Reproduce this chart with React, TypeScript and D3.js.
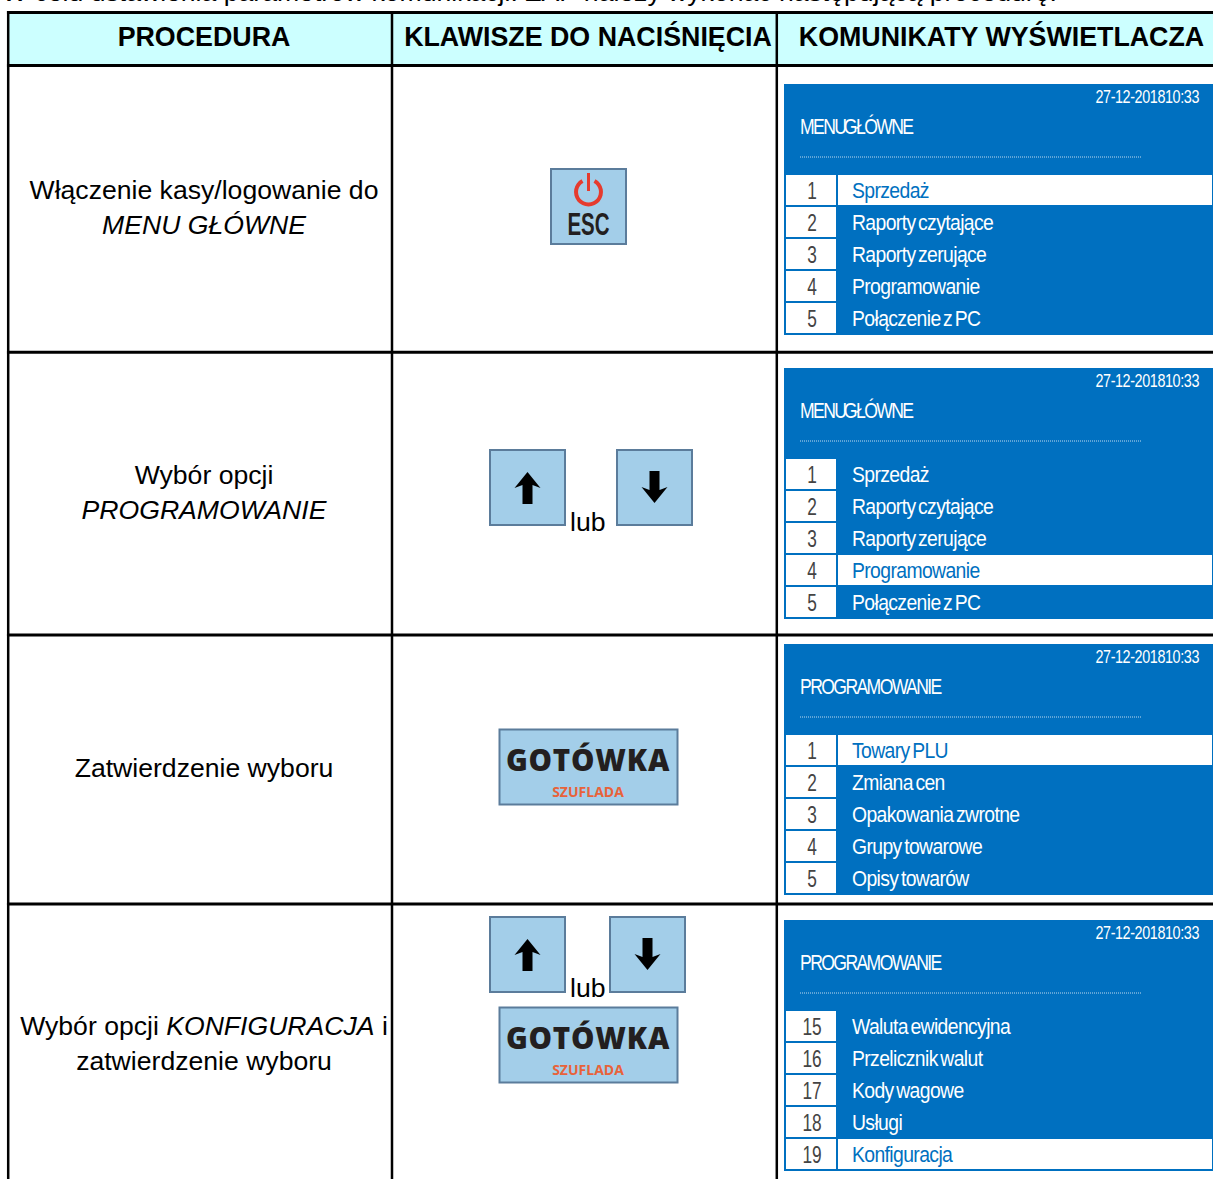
import React from 'react';
import * as d3 from 'd3';

const headers = ['PROCEDURA', 'KLAWISZE DO NACIŚNIĘCIA', 'KOMUNIKATY WYŚWIETLACZA'];
const introText = 'W celu ustawienia parametrów komunikacji. ZAP należy wykonać następującą procedurę:';

// each line is a list of [text, italic] runs
const procedures: [string, boolean][][][] = [
  [[['Włączenie kasy/logowanie do', false]], [['MENU GŁÓWNE', true]]],
  [[['Wybór opcji', false]], [['PROGRAMOWANIE', true]]],
  [[['Zatwierdzenie wyboru', false]]],
  [[['Wybór opcji ', false], ['KONFIGURACJA', true], [' i', false]], [['zatwierdzenie wyboru', false]]],
];

const screenDate = '27-12-201810:33';
const screenTitles = ['MENU GŁÓWNE', 'MENU GŁÓWNE', 'PROGRAMOWANIE', 'PROGRAMOWANIE'];
const menuMain = ['Sprzedaż', 'Raporty czytające', 'Raporty zerujące', 'Programowanie', 'Połączenie z PC'];
const menuProg = ['Towary PLU', 'Zmiana cen', 'Opakowania zwrotne', 'Grupy towarowe', 'Opisy towarów'];
const menuProgEnd = ['Waluta ewidencyjna', 'Przelicznik walut', 'Kody wagowe', 'Usługi', 'Konfiguracja'];
const numbersStart = [1, 1, 1, 15];
const screenMenus = [menuMain, menuMain, menuProg, menuProgEnd];
const highlighted = [0, 3, 0, 4];

// table geometry
const colEdges = [8.2, 392, 776.8];
const rowEdges = [12.5, 65.5, 352.3, 635, 904];
const screenTops = [84, 368, 644, 920];
const colX = d3.scaleOrdinal<number, number>().domain([0, 1, 2]).range([204, 588, 1001.5]);
const rowTextBase = [199, 484, 777, 1035];

const BLUE = '#0070C0';
const KEY_FILL = '#A3CEE9';
const KEY_STROKE = '#5B7C9B';
const sans = '"Liberation Sans", Arial, sans-serif';

function Screen({ top, idx }: { top: number; idx: number }) {
  const menu = screenMenus[idx];
  const y = d3.scaleBand<number>().domain(d3.range(menu.length)).range([top + 91, top + 249]).paddingInner(2 / 32).paddingOuter(0);
  return (
    <g fontFamily={sans}>
      <rect x={784} y={top} width={429} height={251} fill={BLUE} />
      <text transform={`translate(1199,${top + 18.5}) scale(0.8,1)`} textAnchor="end" fill="#fff" fontSize={18} letterSpacing={-0.5}>{screenDate}</text>
      <text transform={`translate(800,${top + 49.5}) scale(0.8,1)`} fill="#fff" fontSize={22} letterSpacing={-2} wordSpacing={-6}>{screenTitles[idx]}</text>
      <line x1={800} x2={1142} y1={top + 73} y2={top + 73} stroke="#fff" strokeOpacity={0.75} strokeWidth={1} strokeDasharray="1 1" />
      {menu.map((label, i) => {
        const on = highlighted[idx] === i;
        const by = y(i) as number;
        return (
          <g key={label}>
            <rect x={786} y={by} width={50} height={y.bandwidth()} fill="#fff" />
            {on && <rect x={838} y={by} width={374} height={y.bandwidth()} fill="#fff" />}
            <text transform={`translate(812,${by + 24}) scale(0.72,1)`} textAnchor="middle" fill="#444" fontSize={24}>{numbersStart[idx] + i}</text>
            <text transform={`translate(852,${by + 23}) scale(0.88,1)`} fill={on ? BLUE : '#fff'} fontSize={22} letterSpacing={-0.7} wordSpacing={-2.5}>{label}</text>
          </g>
        );
      })}
    </g>
  );
}

function Key({ x, y, w, children }: { x: number; y: number; w: number; children?: React.ReactNode }) {
  return (
    <g transform={`translate(${x},${y})`}>
      <rect x={0} y={0} width={w} height={75} fill={KEY_FILL} stroke={KEY_STROKE} strokeWidth={2} />
      {children}
    </g>
  );
}

function ArrowKey({ x, y, up }: { x: number; y: number; up: boolean }) {
  const arrow = d3.line()([[0, -17], [13, -1], [5, -4], [5, 15], [-5, 15], [-5, -4], [-13, -1]]) + 'Z';
  return (
    <Key x={x} y={y} w={75}>
      <path d={arrow} transform={`translate(37.5,${up ? 39 : 36}) scale(1,${up ? 1 : -1})`} fill="#000" />
    </Key>
  );
}

function CashKey({ y }: { y: number }) {
  return (
    <Key x={499.5} y={y} w={178}>
      <text x={88.5} y={41} textAnchor="middle" fontFamily='"Open Sans", sans-serif' fontWeight={800} fontSize={29.5} fill="#231F20" letterSpacing={0.8}>GOTÓWKA</text>
      <text x={88.5} y={67.5} textAnchor="middle" fontFamily='"Open Sans", sans-serif' fontWeight={700} fontSize={14} fill="#E8623A">SZUFLADA</text>
    </Key>
  );
}

export default function App() {
  return (
    <svg width={1213} height={1179} style={{ position: 'absolute', left: 0, top: 0, background: '#fff' }}>
      <text x={2} y={1} fontFamily={sans} fontSize={26.6}>{introText}</text>

      <rect x={colEdges[0]} y={rowEdges[0]} width={1213 - colEdges[0]} height={rowEdges[1] - rowEdges[0]} fill="#CCFFFF" />
      {headers.map((h, i) => (
        <text key={h} x={colX(i)} y={46} textAnchor="middle" fontFamily={sans} fontWeight={700} fontSize={26.8}>{h}</text>
      ))}

      {procedures.map((lines, r) => (
        <g key={r}>
          {lines.map((runs, l) => (
            <text key={l} x={colX(0)} y={rowTextBase[r] + l * 34.5} textAnchor="middle" fontFamily={sans} fontSize={26.6}>
              {runs.map(([t, it], k) => (
                <tspan key={k} fontStyle={it ? 'italic' : 'normal'} xmlSpace="preserve">{t}</tspan>
              ))}
            </text>
          ))}
        </g>
      ))}

      {screenTops.map((t, i) => <Screen key={i} top={t} idx={i} />)}

      <Key x={551} y={169} w={75}>
        <path d={d3.arc()({ innerRadius: 10.5, outerRadius: 14.5, startAngle: 0.5, endAngle: 2 * Math.PI - 0.5 } as any) as string} transform="translate(37.5,23)" fill="#E63B2E" />
        <rect x={36} y={4} width={3} height={18} fill="#E63B2E" />
        <text transform="translate(37.5,66) scale(0.66,1)" textAnchor="middle" fontFamily={sans} fontWeight={700} fontSize={31} fill="#231F20">ESC</text>
      </Key>

      <ArrowKey x={490} y={450} up />
      <text x={570} y={531} fontFamily={sans} fontSize={26.6}>lub</text>
      <ArrowKey x={617} y={450} up={false} />

      <CashKey y={729.5} />

      <ArrowKey x={490} y={917} up />
      <text x={570} y={997} fontFamily={sans} fontSize={26.6}>lub</text>
      <ArrowKey x={610} y={917} up={false} />
      <CashKey y={1007.5} />

      {colEdges.map(x => (
        <line key={x} x1={x} x2={x} y1={rowEdges[0] - 1.5} y2={1179} stroke="#000" strokeWidth={2.5} />
      ))}
      {rowEdges.map(y => (
        <line key={y} x1={colEdges[0] - 1.25} x2={1213} y1={y} y2={y} stroke="#000" strokeWidth={3} />
      ))}
    </svg>
  );
}
